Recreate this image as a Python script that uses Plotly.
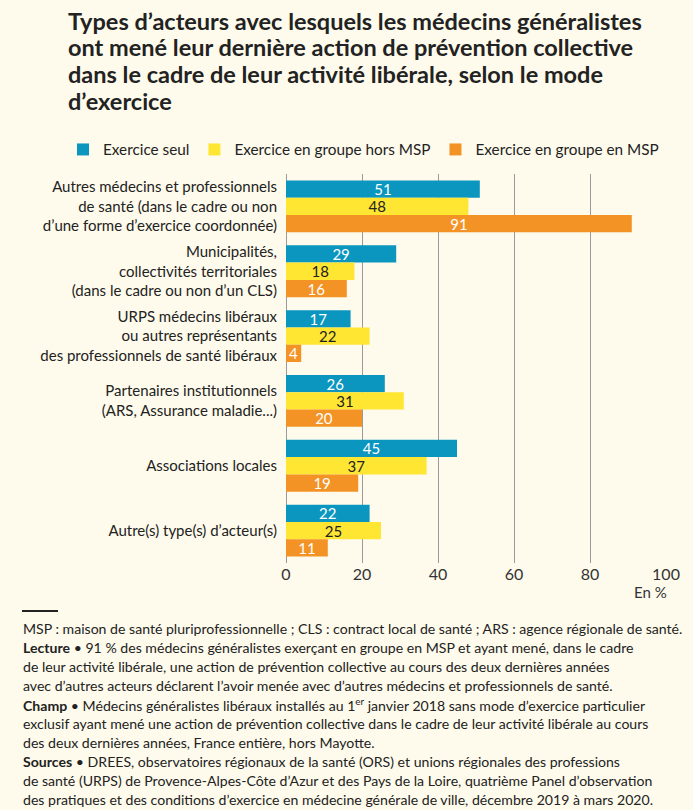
import plotly.graph_objects as go

categories = [
    "Autres médecins et professionnels<br>de santé (dans le cadre ou non<br>d’une forme d’exercice coordonnée)",
    "Municipalités,<br>collectivités territoriales<br>(dans le cadre ou non d’un CLS)",
    "URPS médecins libéraux<br>ou autres représentants<br>des professionnels de santé libéraux",
    "Partenaires institutionnels<br>(ARS, Assurance maladie...)",
    "Associations locales",
    "Autre(s) type(s) d’acteur(s)",
]
series_names = ["Exercice seul", "Exercice en groupe hors MSP", "Exercice en groupe en MSP"]
seul = [51, 29, 17, 26, 45, 22]
hors_msp = [48, 18, 22, 31, 37, 25]
en_msp = [91, 16, 4, 20, 19, 11]
tick_vals = [0, 20, 40, 60, 80, 100]
title_lines = [
    "Types d’acteurs avec lesquels les médecins généralistes",
    "ont mené leur dernière action de prévention collective",
    "dans le cadre de leur activité libérale, selon le mode",
    "d’exercice",
]

colors = ["#0A96BF", "#FFE633", "#F39325"]
text_colors = ["white", "#222222", "white"]
FONT = "Lato"
BG = "#FEFBEC"

W, H = 693, 810
L, R, T, B = 286, 27, 174, 247
pw = W - L - R
ph = H - T - B

def px_x(x):
    return (x - L) / pw

def px_y(y):
    return 1 - (y - T) / ph

fig = go.Figure()
for name, vals, c, tc in zip(series_names, [seul, hors_msp, en_msp], colors, text_colors):
    fig.add_trace(go.Bar(
        y=categories, x=vals, name=name, orientation="h",
        marker=dict(color=c, line=dict(width=0)),
        text=[str(v) for v in vals], textposition="inside", textangle=0,
        insidetextanchor="middle", constraintext="none",
        textfont=dict(color=tc, size=15, family=FONT),
    ))

fig.update_layout(
    width=W, height=H,
    paper_bgcolor=BG, plot_bgcolor=BG,
    margin=dict(l=L, r=R, t=T, b=B),
    barmode="group", bargap=0.2, bargroupgap=0,
    font=dict(family=FONT, color="#222222", size=15),
    uniformtext=dict(minsize=15, mode="show"),
    showlegend=True,
    legend=dict(orientation="h", x=px_x(63), xanchor="left", y=px_y(133), yanchor="top",
                font=dict(size=15.3, family=FONT), itemwidth=30, traceorder="normal",
                bgcolor="rgba(0,0,0,0)", itemsizing="constant"),
    xaxis=dict(range=[0, 100], tickvals=tick_vals, showgrid=True, gridcolor="#9a9a9a",
               gridwidth=1, zeroline=True, zerolinecolor="#9a9a9a", zerolinewidth=1,
               tickfont=dict(size=16, color="#333333"), ticks="", ticklen=0,
               showline=False, fixedrange=True),
    yaxis=dict(autorange="reversed", tickfont=dict(size=15, color="#222222"),
               ticks="", ticklen=0, showline=False, showgrid=False, ticklabelstandoff=8),
)

for i, line in enumerate(title_lines):
    fig.add_annotation(text="<b>" + line + "</b>", xref="paper", yref="paper",
                       x=px_x(66), y=px_y(21 + i * 26.5), xanchor="left", yanchor="middle",
                       showarrow=False, font=dict(size=23.5, family=FONT, color="#222222"))

fig.add_annotation(text="En %", xref="paper", yref="paper", x=px_x(669), y=px_y(592),
                   xanchor="right", yanchor="middle", showarrow=False,
                   font=dict(size=15, family=FONT, color="#333333"))

fig.add_shape(type="line", xref="paper", yref="paper", x0=px_x(22), x1=px_x(58),
              y0=px_y(611), y1=px_y(611), line=dict(color="#222222", width=2))

footer = [
    "MSP : maison de santé pluriprofessionnelle ; CLS : contract local de santé ; ARS : agence régionale de santé.",
    "<b>Lecture</b> • 91 % des médecins généralistes exerçant en groupe en MSP et ayant mené, dans le cadre",
    "de leur activité libérale, une action de prévention collective au cours des deux dernières années",
    "avec d’autres acteurs déclarent l’avoir menée avec d’autres médecins et professionnels de santé.",
    "<b>Champ</b> • Médecins généralistes libéraux installés au 1<sup>er</sup> janvier 2018 sans mode d’exercice particulier",
    "exclusif ayant mené une action de prévention collective dans le cadre de leur activité libérale au cours",
    "des deux dernières années, France entière, hors Mayotte.",
    "<b>Sources</b> • DREES, observatoires régionaux de la santé (ORS) et unions régionales des professions",
    "de santé (URPS) de Provence-Alpes-Côte d’Azur et des Pays de la Loire, quatrième Panel d’observation",
    "des pratiques et des conditions d’exercice en médecine générale de ville, décembre 2019 à mars 2020.",
]
for i, line in enumerate(footer):
    fig.add_annotation(text=line, xref="paper", yref="paper", x=px_x(21), y=px_y(628 + i * 19.1),
                       xanchor="left", yanchor="middle", showarrow=False, align="left",
                       font=dict(size=14.1, family=FONT, color="#222222"))

fig.write_html(
    "out.html",
    config={"displayModeBar": False},
    post_script="document.body.style.margin='0';document.body.style.background='" + BG + "';"
                "document.documentElement.style.overflow='hidden';",
)
